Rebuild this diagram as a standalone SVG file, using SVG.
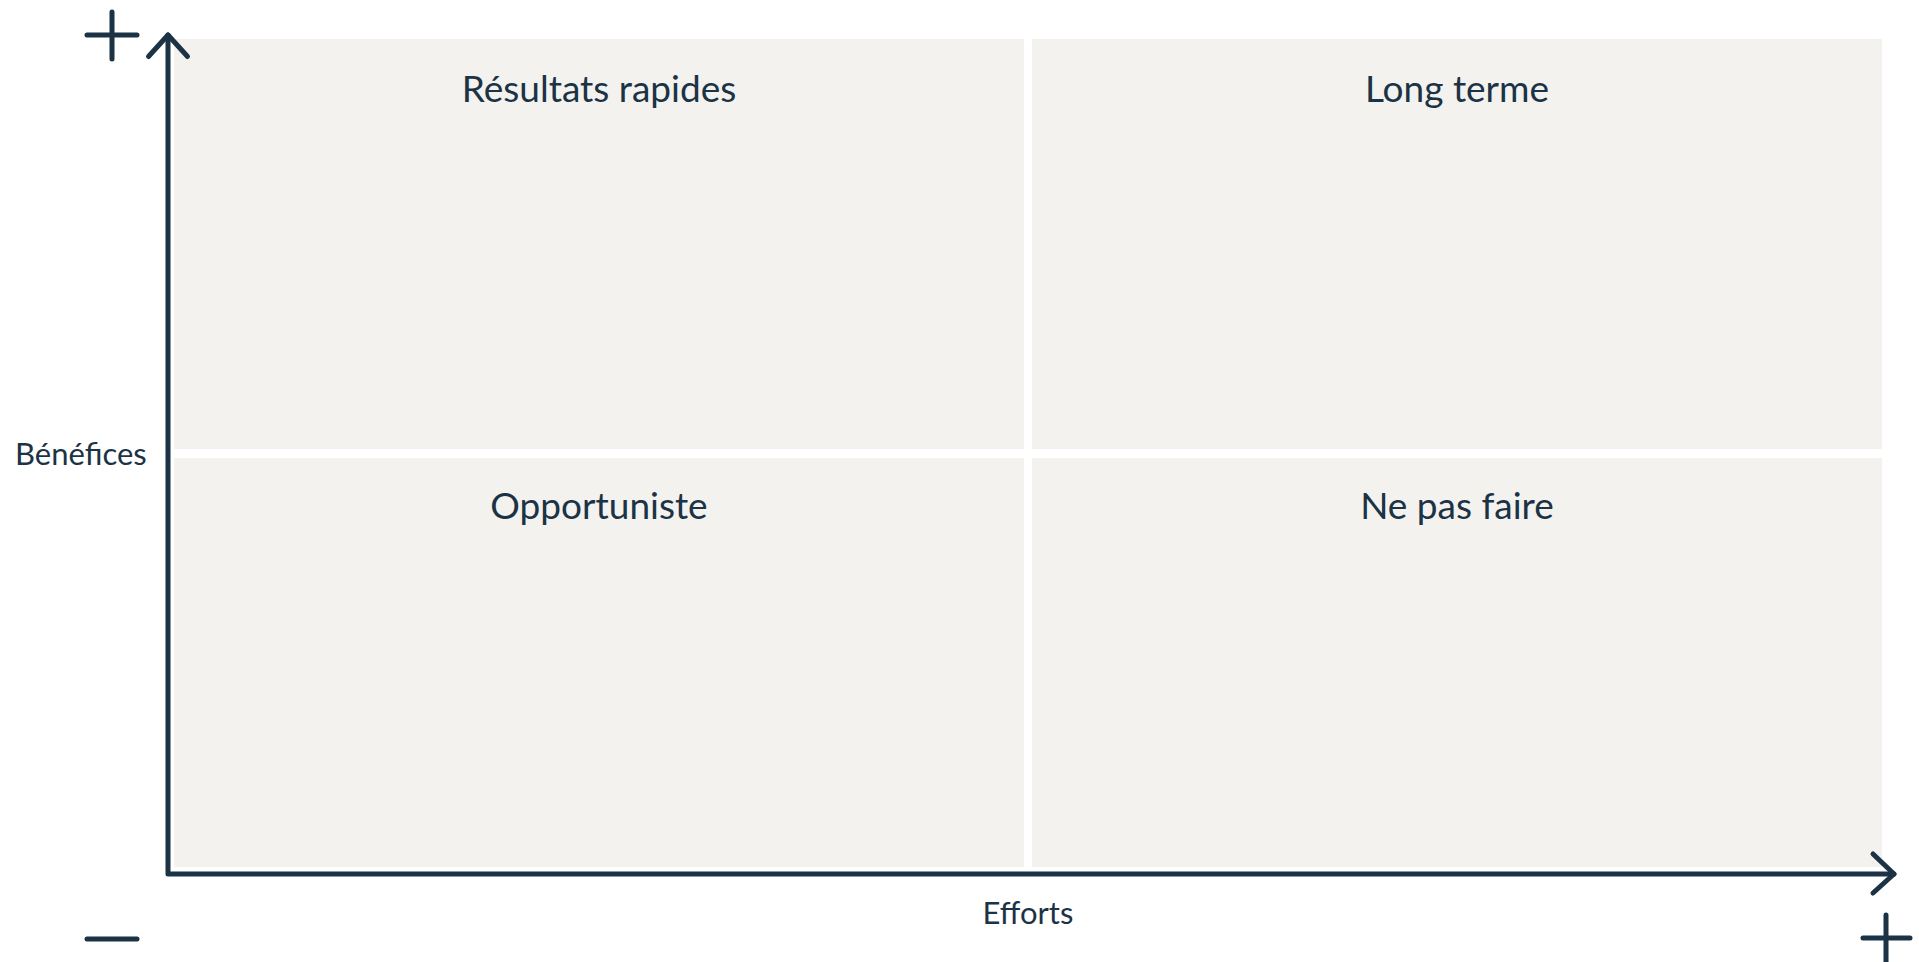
<svg xmlns="http://www.w3.org/2000/svg" width="1919" height="962" viewBox="0 0 1919 962">
  <style>
    .quad { fill: #F3F2EF; }
    .title { font-family: Lato, "Liberation Sans", sans-serif; font-size: 37px; fill: #1B3345; text-anchor: middle; }
    .axis-label { font-family: Lato, "Liberation Sans", sans-serif; font-size: 31px; fill: #1B3345; }
    .stroke { fill: none; stroke: #1B3345; stroke-width: 5; stroke-linecap: round; stroke-linejoin: round; }
  </style>
  <rect width="1919" height="962" fill="#FFFFFF"/>

  <!-- Quadrants -->
  <g id="quick-wins">
    <rect class="quad" x="174" y="39" width="850" height="410"/>
    <text class="title" x="599" y="102">Résultats rapides</text>
  </g>
  <g id="long-term">
    <rect class="quad" x="1032" y="39" width="850" height="410"/>
    <text class="title" x="1457" y="102">Long terme</text>
  </g>
  <g id="opportunist">
    <rect class="quad" x="174" y="458" width="850" height="409"/>
    <text class="title" x="599" y="519">Opportuniste</text>
  </g>
  <g id="do-not">
    <rect class="quad" x="1032" y="458" width="850" height="409"/>
    <text class="title" x="1457" y="519">Ne pas faire</text>
  </g>

  <!-- Axes -->
  <g id="axes">
    <path class="stroke" d="M168 35 V874 H1894"/>
    <path class="stroke" d="M148.5 56.5 L168 35 L187.5 56.5"/>
    <path class="stroke" d="M1873 854 L1894 874 L1873 893"/>
    <path class="stroke" d="M87 35 H137 M112 12 V59"/>
    <path class="stroke" d="M87 939 H137"/>
    <path class="stroke" d="M1863 938 H1910 M1886 915 V965"/>
  </g>

  <g id="axis-labels">
    <text class="axis-label" x="15" y="465">Bénéfices</text>
    <text class="axis-label" x="1028" y="924" text-anchor="middle">Efforts</text>
  </g>
</svg>
